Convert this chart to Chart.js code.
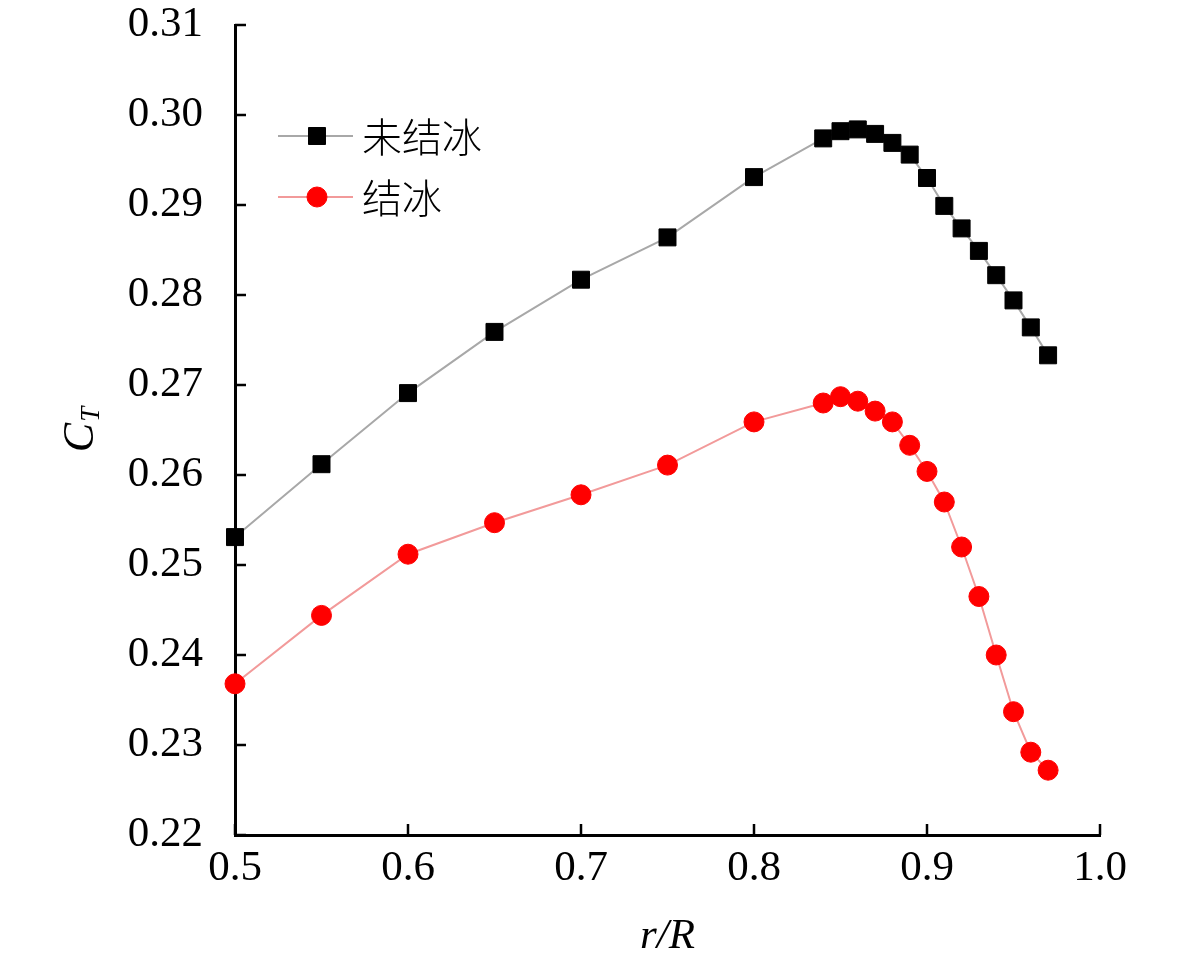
<!DOCTYPE html>
<html>
<head>
<meta charset="utf-8">
<script src="https://cdn.jsdelivr.net/npm/chart.js@4.4.0/dist/chart.umd.min.js"></script>
<style>
  html, body { margin: 0; padding: 0; background: #fff; }
</style>
</head>
<body>
<canvas id="ctChart" width="1181" height="965"></canvas>
<script>
const rR = [0.50, 0.55, 0.60, 0.65, 0.70, 0.75, 0.80, 0.84, 0.85, 0.86, 0.87,
            0.88, 0.89, 0.90, 0.91, 0.92, 0.93, 0.94, 0.95, 0.96, 0.97];
const ctClean = [0.2531, 0.2612, 0.2691, 0.2759, 0.2817, 0.2864, 0.2931, 0.2974, 0.2982, 0.2984, 0.2979,
                 0.2969, 0.2956, 0.2930, 0.2899, 0.2874, 0.2849, 0.2822, 0.2794, 0.2764, 0.2733];
const ctIced = [0.2368, 0.2444, 0.2512, 0.2547, 0.2578, 0.2611, 0.2659, 0.2680, 0.2687, 0.2682, 0.2671,
                0.2659, 0.2633, 0.2604, 0.2570, 0.2520, 0.2465, 0.2400, 0.2337, 0.2292, 0.2272];
const seriesNames = ["未结冰", "结冰"];

const serif = "'Liberation Serif', 'Times New Roman', serif";
const cjk = "'Noto Sans CJK SC', 'Liberation Serif', serif";

function toPoints(ys) {
  return rR.map((x, i) => ({ x: x, y: ys[i] }));
}

// ticks pointing into the plot area
const inwardTicks = {
  id: "inwardTicks",
  afterDraw(chart) {
    const ctx = chart.ctx;
    const xs = chart.scales.x, ys = chart.scales.y;
    ctx.save();
    ctx.strokeStyle = "#000";
    ctx.lineWidth = 2.5;
    ctx.beginPath();
    xs.ticks.forEach(t => {
      const px = xs.getPixelForValue(t.value);
      ctx.moveTo(px, ys.bottom);
      ctx.lineTo(px, ys.bottom - 11);
    });
    ys.ticks.forEach(t => {
      const py = ys.getPixelForValue(t.value);
      ctx.moveTo(xs.left, py);
      ctx.lineTo(xs.left + 11, py);
    });
    ctx.stroke();
    ctx.restore();
  }
};

// y title C_T with subscript
const yTitle = {
  id: "yTitle",
  afterDraw(chart) {
    const ctx = chart.ctx;
    const ys = chart.scales.y;
    const cy = (ys.top + ys.bottom) / 2;
    ctx.save();
    ctx.translate(93, cy);
    ctx.rotate(-Math.PI / 2);
    ctx.fillStyle = "#000";
    ctx.textBaseline = "alphabetic";
    ctx.font = "italic 44px " + serif;
    const wC = ctx.measureText("C").width;
    ctx.font = "italic 27px " + serif;
    const wT = ctx.measureText("T").width;
    const start = -(wC + wT) / 2;
    ctx.font = "italic 44px " + serif;
    ctx.fillText("C", start, 0);
    ctx.font = "italic 27px " + serif;
    ctx.fillText("T", start + wC + 1, 6);
    ctx.restore();
  }
};

// legend inside the plot, line + marker + label
const innerLegend = {
  id: "innerLegend",
  afterDraw(chart) {
    const ctx = chart.ctx;
    const area = chart.chartArea;
    const x0 = area.left + 43;
    let y = area.top + 111;
    chart.data.datasets.forEach(ds => {
      ctx.save();
      ctx.strokeStyle = ds.borderColor;
      ctx.lineWidth = ds.borderWidth;
      ctx.beginPath();
      ctx.moveTo(x0, y);
      ctx.lineTo(x0 + 75, y);
      ctx.stroke();
      ctx.fillStyle = ds.pointBackgroundColor;
      ctx.strokeStyle = ds.pointBorderColor;
      ctx.lineWidth = 1;
      Chart.helpers.drawPoint(ctx, {
        pointStyle: ds.pointStyle,
        radius: ds.pointRadius,
        borderWidth: 1,
        rotation: 0
      }, x0 + 39, y);
      ctx.fillStyle = "#000";
      ctx.font = "300 40px " + cjk;
      ctx.textBaseline = "middle";
      ctx.fillText(ds.label, x0 + 84, y + 1);
      ctx.restore();
      y += 61;
    });
  }
};

const ctx = document.getElementById("ctChart").getContext("2d");
new Chart(ctx, {
  type: "scatter",
  data: {
    datasets: [
      {
        label: seriesNames[0],
        data: toPoints(ctClean),
        showLine: true,
        borderColor: "#a8a8a8",
        borderWidth: 2,
        pointStyle: "rect",
        pointRadius: 12,
        pointHoverRadius: 12,
        pointBackgroundColor: "#000",
        pointBorderColor: "#000",
        pointBorderWidth: 1,
        clip: false
      },
      {
        label: seriesNames[1],
        data: toPoints(ctIced),
        showLine: true,
        borderColor: "#f29a9a",
        borderWidth: 2,
        pointStyle: "circle",
        pointRadius: 10,
        pointHoverRadius: 10,
        pointBackgroundColor: "#ff0000",
        pointBorderColor: "#ff0000",
        pointBorderWidth: 1,
        clip: false
      }
    ]
  },
  options: {
    responsive: false,
    animation: false,
    devicePixelRatio: 1,
    layout: { padding: { top: 25, right: 81, bottom: 0, left: 0 } },
    plugins: {
      legend: { display: false },
      tooltip: { enabled: false }
    },
    scales: {
      x: {
        type: "linear",
        position: "bottom",
        min: 0.5,
        max: 1.0,
        grid: { display: false, drawTicks: false },
        border: { display: true, color: "#000", width: 3 },
        ticks: {
          stepSize: 0.1,
          padding: 8,
          color: "#000",
          font: { family: serif, size: 43 },
          callback: v => v.toFixed(1)
        },
        title: {
          display: true,
          text: "r/R",
          color: "#000",
          font: { family: serif, size: 43, style: "italic" },
          padding: { top: 0, bottom: 2 }
        },
        afterFit: s => { s.height = 130; s.paddingLeft = 0; s.paddingRight = 0; }
      },
      y: {
        min: 0.22,
        max: 0.31,
        grid: { display: false, drawTicks: false },
        border: { display: true, color: "#000", width: 3 },
        ticks: {
          stepSize: 0.01,
          padding: 32,
          color: "#000",
          font: { family: serif, size: 43, lineHeight: 1 },
          callback: v => v.toFixed(2)
        },
        afterFit: s => { s.width = 235; s.paddingTop = 0; s.paddingBottom = 0; }
      }
    }
  },
  plugins: [inwardTicks, yTitle, innerLegend]
});
</script>
</body>
</html>
